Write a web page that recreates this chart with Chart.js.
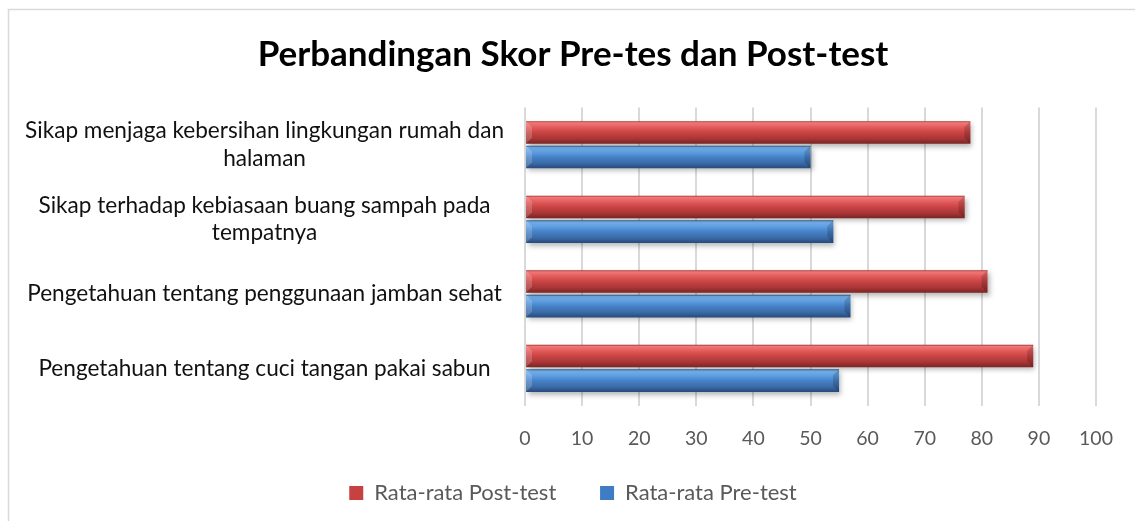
<!DOCTYPE html>
<html>
<head>
<meta charset="utf-8">
<script src="https://cdn.jsdelivr.net/npm/chart.js@4.4.1/dist/chart.umd.min.js"></script>
<style>
html,body{margin:0;padding:0;background:#fff;}
#wrap{position:absolute;left:0;top:0;width:1135px;height:521px;}
</style>
</head>
<body>
<div id="wrap"><canvas id="c" width="1135" height="521"></canvas></div>
<script>
const categories = [
  ["Sikap menjaga kebersihan lingkungan rumah dan", "halaman"],
  ["Sikap terhadap kebiasaan buang sampah pada", "tempatnya"],
  "Pengetahuan tentang penggunaan jamban sehat",
  "Pengetahuan tentang cuci tangan pakai sabun"
];
const postTest = [78, 77, 81, 89];
const preTest = [50, 54, 57, 55];
const seriesNames = ["Rata-rata Post-test", "Rata-rata Pre-test"];
const xTicks = [0, 10, 20, 30, 40, 50, 60, 70, 80, 90, 100];

const FONT = "Lato, 'Open Sans', sans-serif";

const palettes = [
  [[0,'#9e2b2b'],[0.07,'#f27878'],[0.3,'#e05858'],[0.5,'#c94444'],[0.78,'#a83535'],[1,'#782424']],
  [[0,'#2a5c9e'],[0.07,'#7ab6ee'],[0.3,'#5c9ce0'],[0.5,'#4682c8'],[0.78,'#3a6aa6'],[1,'#28497c']]
];

const frame = {
  id: 'frame',
  beforeDraw(chart) {
    const ctx = chart.ctx;
    ctx.save();
    ctx.strokeStyle = '#d9d9d9';
    ctx.lineWidth = 1.5;
    ctx.strokeRect(8.5, 9.5, 2000, 2000);
    ctx.restore();
  }
};

const bevel = {
  id: 'bevel',
  beforeDatasetsDraw(chart) {
    const ctx = chart.ctx;
    chart.data.datasets.forEach((ds, di) => {
      const meta = chart.getDatasetMeta(di);
      meta.data.forEach(el => {
        const top = el.y - el.height / 2, bot = el.y + el.height / 2;
        const g = ctx.createLinearGradient(0, top, 0, bot);
        palettes[di].forEach(s => g.addColorStop(s[0], s[1]));
        el.options = Object.assign({}, el.options, { backgroundColor: g });
      });
    });
    ctx.save();
    ctx.shadowColor = 'rgba(0,0,0,0.28)';
    ctx.shadowBlur = 5;
    ctx.shadowOffsetX = 2;
    ctx.shadowOffsetY = 3;
  },
  afterDatasetsDraw(chart) {
    const ctx = chart.ctx;
    ctx.restore();
    ctx.save();
    chart.data.datasets.forEach((ds, di) => {
      const meta = chart.getDatasetMeta(di);
      meta.data.forEach(el => {
        const top = el.y - el.height / 2, bot = el.y + el.height / 2;
        const l = el.base, r = el.x, b = 6;
        ctx.fillStyle = 'rgba(255,255,255,0.18)';
        ctx.beginPath();
        ctx.moveTo(l, top); ctx.lineTo(l + b, top + b); ctx.lineTo(l + b, bot - b); ctx.lineTo(l, bot); ctx.closePath(); ctx.fill();
        ctx.fillStyle = 'rgba(0,0,0,0.16)';
        ctx.beginPath();
        ctx.moveTo(r, top); ctx.lineTo(r - b, top + b); ctx.lineTo(r - b, bot - b); ctx.lineTo(r, bot); ctx.closePath(); ctx.fill();
      });
    });
    ctx.restore();
  }
};

new Chart(document.getElementById('c'), {
  type: 'bar',
  data: {
    labels: categories,
    datasets: [
      { label: seriesNames[0], data: postTest, backgroundColor: '#c84141', borderWidth: 0 },
      { label: seriesNames[1], data: preTest, backgroundColor: '#3f7cc4', borderWidth: 0 }
    ]
  },
  options: {
    indexAxis: 'y',
    responsive: false,
    animation: false,
    layout: { padding: { left: 50, right: 39, top: 0, bottom: 7 } },
    datasets: { bar: { categoryPercentage: 0.66, barPercentage: 0.92 } },
    scales: {
      x: {
        min: 0, max: 100,
        afterBuildTicks(scale) { scale.ticks = xTicks.map(v => ({ value: v })); },
        grid: { color: '#d9d9d9', lineWidth: 2, drawTicks: false },
        border: { display: false },
        ticks: { color: '#595959', font: { family: FONT, size: 19.5 }, padding: 21.5 }
      },
      y: {
        afterFit(scale) {
          scale.width = 475;
          scale._computeLabelArea = () => undefined;
        },
        grid: { display: false, drawTicks: false },
        border: { display: false },
        ticks: { color: '#111', font: { family: FONT, size: 22.6, lineHeight: 1.22 }, padding: 21, crossAlign: 'center', autoSkip: false }
      }
    },
    plugins: {
      title: {
        display: true,
        text: 'Perbandingan Skor Pre-tes dan Post-test',
        color: '#000',
        font: { family: FONT, size: 35, weight: 'bold' },
        padding: { top: 34, bottom: 31.5 }
      },
      legend: {
        position: 'bottom',
        labels: {
          color: '#595959', font: { family: FONT, size: 22 }, boxWidth: 14, boxHeight: 14, padding: 10,
          generateLabels(chart) {
            const items = Chart.defaults.plugins.legend.labels.generateLabels(chart);
            items[0].text = items[0].text + '\u00A0'.repeat(6);
            return items;
          }
        }
      },
      tooltip: { enabled: false }
    }
  },
  plugins: [frame, bevel]
});
</script>
</body>
</html>
